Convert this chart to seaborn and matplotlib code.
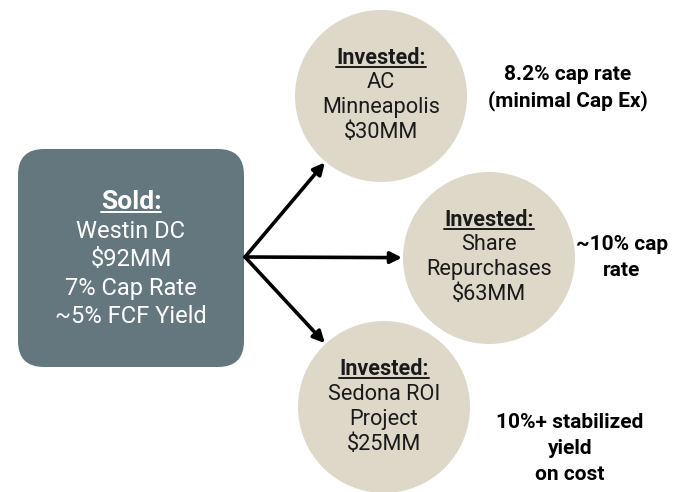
import matplotlib
matplotlib.use('Agg')
import matplotlib.pyplot as plt
import seaborn as sns
from matplotlib.patches import FancyBboxPatch, Circle

# data
sold_title = 'Sold:'
sold_lines = ['Westin DC', '$92MM', '7% Cap Rate', '~5% FCF Yield']
invest_title = 'Invested:'
invest_names = [['AC', 'Minneapolis'], ['Share', 'Repurchases'], ['Sedona ROI', 'Project']]
invest_amounts = ['$30MM', '$63MM', '$25MM']
invest_notes = [['8.2% cap rate', '(minimal Cap Ex)'], ['~10% cap', 'rate'],
                ['10%+ stabilized', 'yield', 'on cost']]

# layout (pixel space)
circle_xy = [(381, 96), (489, 258), (384, 407)]
circle_r = 86
note_xy = [(568, 88), (622, 257), (570, 448)]
box_color = '#64777f'
circle_color = '#ddd8c8'

sns.set_style('white')
plt.rcParams['font.family'] = ['Roboto', 'DejaVu Sans']

fig = plt.figure(figsize=(6.86, 4.92), dpi=100)
ax = fig.add_axes([0, 0, 1, 1])
ax.set_xlim(0, 686)
ax.set_ylim(492, 0)
ax.axis('off')

underlines = []

# sold box
ax.add_patch(FancyBboxPatch((18 + 26, 149 + 26), 226 - 52, 218 - 52,
                            boxstyle='round,pad=26', fc=box_color, ec='none'))
t = ax.text(131, 202, sold_title, color='white', fontsize=19, fontweight='bold',
            ha='center', va='center')
underlines.append((t, 'white'))
for i, line in enumerate(sold_lines):
    ax.text(131, 231 + i * 28.5, line, color='white', fontsize=17,
            ha='center', va='center')

# circles, arrows, notes
origin = (245, 257)
for i, (cx, cy) in enumerate(circle_xy):
    ax.add_patch(Circle((cx, cy), circle_r, fc=circle_color, ec='none'))
    dx, dy = cx - origin[0], cy - origin[1]
    d = (dx ** 2 + dy ** 2) ** 0.5
    tip = (cx - dx / d * (circle_r + 1), cy - dy / d * (circle_r + 1))
    ax.annotate('', xy=tip, xytext=origin,
                arrowprops=dict(arrowstyle='-|>', color='black', lw=2.6,
                                mutation_scale=17, shrinkA=0, shrinkB=0))
    lines = [invest_title] + invest_names[i] + [invest_amounts[i]]
    y0 = cy - 38
    for j, line in enumerate(lines):
        if j == 0:
            t = ax.text(cx, y0, line, fontsize=15.5, fontweight='bold', color='#1a1a1a',
                        ha='center', va='center')
            underlines.append((t, '#1a1a1a'))
        else:
            ax.text(cx, y0 + j * 25, line, fontsize=15.7, color='#1a1a1a',
                    ha='center', va='center')
    nx, ny = note_xy[i]
    note = invest_notes[i]
    for j, line in enumerate(note):
        ax.text(nx, ny + (j - (len(note) - 1) / 2) * 26, line, fontsize=15,
                fontweight='bold', color='black', ha='center', va='center')

# underline titles
fig.canvas.draw()
inv = ax.transData.inverted()
for t, c in underlines:
    bb = t.get_window_extent()
    (x0, y0), (x1, y1) = inv.transform([(bb.x0, bb.y0 + 2), (bb.x1, bb.y0 + 2)])
    ax.plot([x0, x1], [y0, y1], color=c, lw=1.4)

fig.savefig('out.png', dpi=100)
